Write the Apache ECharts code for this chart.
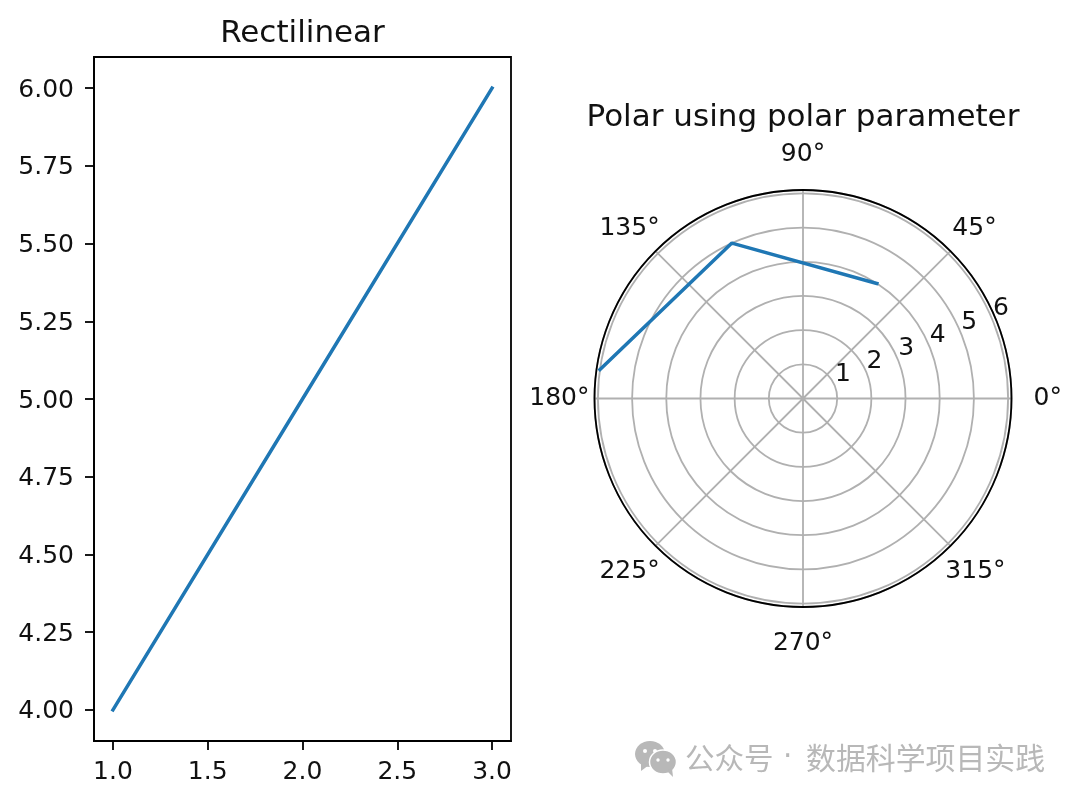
<!DOCTYPE html>
<html><head><meta charset="utf-8">
<style>html,body{margin:0;padding:0;background:#fff}#c{width:1080px;height:803px}</style>
<script src="https://cdn.jsdelivr.net/npm/echarts@6/dist/echarts.min.js"></script>
</head><body><div id="c"></div>
<script>
const xValues = [1, 2, 3];
const yValues = [4, 5, 6];
const thetaDegrees = [57.2958, 114.5916, 171.8873];
const rValues = [4, 5, 6];
const xTicks = [1, 1.5, 2, 2.5, 3];
const yTicks = [4, 4.25, 4.5, 4.75, 5, 5.25, 5.5, 5.75, 6];
const rTicks = [1, 2, 3, 4, 5, 6];
const leftTitle = 'Rectilinear';
const rightTitle = 'Polar using polar parameter';
const watermarkA = '公众号';
const watermarkDot = '·';
const watermarkB = '数据科学项目实践';

const font = '"DejaVu Sans"';
const black = '#000';
const blue = '#1f77b4';
const mark = '#b8b8b8';
const chart = echarts.init(document.getElementById('c'), null, {renderer: 'canvas'});
const lineStyle = {color: black, width: 1.8};
const tickStyle = {show: true, length: 9, lineStyle: {color: black, width: 1.8}, inside: false};
const FS = 25;
const label = {color: '#111', fontFamily: font, fontSize: FS};
const ts = p => ({padding: p, fontFamily: font, fontSize: FS, color: '#111', lineHeight: 28});
const anglePads = {
  a0: [0, 0, 0, 32], a45: [0, 0, 32, 9], a90: [0, 0, 63, 0], a135: [0, 3, 32, 0],
  a180: [0, 15, 0, 0], a225: [38, 3, 0, 0], a270: [65, 0, 0, 0], a315: [38, 0, 0, 2]
};
const angleRich = {};
Object.keys(anglePads).forEach(k => { angleRich[k] = ts(anglePads[k]); });

chart.setOption({
  animation: false,
  backgroundColor: '#fff',
  title: [
    {text: leftTitle, left: 302.5, top: 18, textAlign: 'center', padding: 0,
     textStyle: {fontFamily: font, fontSize: 31, fontWeight: 'normal', color: '#111'}},
    {text: rightTitle, left: 803, top: 102, textAlign: 'center', padding: 0,
     textStyle: {fontFamily: font, fontSize: 31, fontWeight: 'normal', color: '#111'}}
  ],
  grid: {left: 94, top: 57, width: 417, height: 684, containLabel: false, show: true,
         borderColor: black, borderWidth: 1.8, backgroundColor: 'transparent'},
  xAxis: {type: 'value', min: 0.9, max: 3.1, gridIndex: 0,
    splitLine: {show: false},
    axisLine: {show: true, onZero: false, lineStyle},
    axisTick: Object.assign({}, tickStyle, {customValues: xTicks}),
    axisLabel: Object.assign({}, label, {margin: 19, customValues: xTicks, formatter: v => v.toFixed(1)})},
  yAxis: {type: 'value', min: 3.9, max: 6.1, gridIndex: 0,
    splitLine: {show: false},
    axisLine: {show: true, onZero: false, lineStyle},
    axisTick: Object.assign({}, tickStyle, {customValues: yTicks}),
    axisLabel: Object.assign({}, label, {margin: 20, customValues: yTicks,
      rich: {y: ts([4, 0, 0, 0])}, formatter: v => '{y|' + v.toFixed(2) + '}'})},
  polar: [
    {center: [803, 398.5], radius: 208.5},
    {center: [803, 398.5], radius: 208.5}
  ],
  angleAxis: [
    {polarIndex: 0, type: 'value', min: 0, max: 360, interval: 45, startAngle: 0, clockwise: false,
     axisLine: {show: true, lineStyle: {color: black, width: 1.8}},
     axisTick: {show: false},
     splitLine: {show: true, lineStyle: {color: '#b0b0b0', width: 1.8}},
     axisLabel: Object.assign({}, label, {margin: -10, rich: angleRich,
       formatter: v => (v >= 360 ? '' : '{a' + v + '|' + v + '°}')})},
    {polarIndex: 1, type: 'value', min: 0, max: 360, interval: 45, startAngle: 22.5, clockwise: false,
     axisLine: {show: false}, axisTick: {show: false}, splitLine: {show: false}, axisLabel: {show: false}}
  ],
  radiusAxis: [
    {polarIndex: 0, type: 'value', min: 0, max: 6.1,
     axisLine: {show: false}, axisTick: {show: false}, axisLabel: {show: false},
     splitLine: {show: true, lineStyle: {color: '#b0b0b0', width: 1.8}}},
    {polarIndex: 1, type: 'value', min: 0, max: 6.1,
     axisLine: {show: false}, axisTick: {show: false}, splitLine: {show: false},
     axisLabel: Object.assign({}, label, {customValues: rTicks, margin: 12, rotate: 0, align: 'center', verticalAlign: 'middle',
       padding: [0, 0, 0, 26], formatter: v => String(v)})}
  ],
  series: [
    {type: 'line', coordinateSystem: 'cartesian2d', xAxisIndex: 0, yAxisIndex: 0, symbol: 'none', silent: true,
     data: xValues.map((x, i) => [x, yValues[i]]), lineStyle: {color: blue, width: 3.5, cap: 'square'}},
    {type: 'line', coordinateSystem: 'polar', polarIndex: 0, symbol: 'none', silent: true, clip: false,
     data: rValues.map((r, i) => [r, thetaDegrees[i]]), lineStyle: {color: blue, width: 3.5, cap: 'square'}}
  ],
  graphic: [
    {type: 'text', left: 685, top: 743, silent: true, style: {text: watermarkA, fill: mark, fontSize: 29.5, fontFamily: '"Noto Sans CJK SC"'}},
    {type: 'text', left: 783, top: 743, silent: true, style: {text: watermarkDot, fill: mark, fontSize: 29.5, fontFamily: '"DejaVu Sans"'}},
    {type: 'text', left: 806, top: 743, silent: true, style: {text: watermarkB, fill: mark, fontSize: 29.9, fontFamily: '"Noto Sans CJK SC"'}},
    {type: 'group', left: 635, top: 741, silent: true, children: [
      {type: 'ellipse', shape: {cx: 15, cy: 15, rx: 15, ry: 13}, style: {fill: mark}},
      {type: 'polygon', shape: {points: [[6, 23], [6, 32], [14, 26]]}, style: {fill: mark}},
      {type: 'circle', shape: {cx: 10, cy: 12, r: 2}, style: {fill: '#fff'}},
      {type: 'circle', shape: {cx: 20, cy: 12, r: 2}, style: {fill: '#fff'}},
      {type: 'ellipse', shape: {cx: 28, cy: 23, rx: 13.5, ry: 12}, style: {fill: mark, stroke: '#fff', lineWidth: 1.5}},
      {type: 'polygon', shape: {points: [[32, 32], [38, 38], [37, 29]]}, style: {fill: mark}},
      {type: 'circle', shape: {cx: 23, cy: 21, r: 1.7}, style: {fill: '#fff'}},
      {type: 'circle', shape: {cx: 33, cy: 21, r: 1.7}, style: {fill: '#fff'}}
    ]}
  ]
});
</script></body></html>
